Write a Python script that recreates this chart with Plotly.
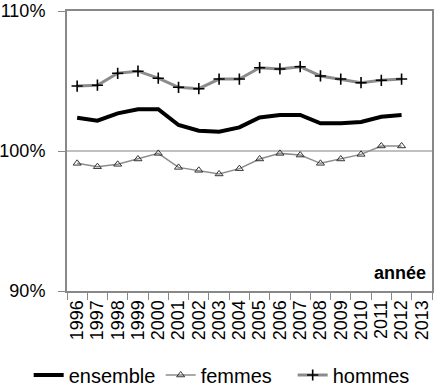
import plotly.graph_objects as go

years = [str(y) for y in range(1996, 2014)]
ensemble = [102.38, 102.17, 102.69, 102.98, 102.98, 101.86, 101.45, 101.38, 101.69,
            102.40, 102.57, 102.57, 101.98, 101.98, 102.07, 102.45, 102.57, None]
femmes = [99.12, 98.88, 99.05, 99.43, 99.83, 98.83, 98.62, 98.36, 98.74,
          99.43, 99.83, 99.71, 99.12, 99.43, 99.76, 100.36, 100.36, None]
hommes = [104.64, 104.70, 105.55, 105.70, 105.20, 104.55, 104.45, 105.14, 105.14,
          105.95, 105.86, 106.02, 105.36, 105.14, 104.88, 105.05, 105.14, None]
ytick_vals = [90, 100, 110]
ytick_text = ["90%", "100%", "110%"]

FONT = "Liberation Sans"
fig = go.Figure()
fig.add_trace(go.Scatter(x=years, y=ensemble, name="ensemble", mode="lines",
                         line=dict(color="black", width=4)))
fig.add_trace(go.Scatter(x=years, y=femmes, name="femmes", mode="lines+markers",
                         line=dict(color="#8c8c8c", width=1.5),
                         marker=dict(symbol="triangle-up-open", size=7, color="#333333",
                                     line=dict(width=1, color="#333333"))))
fig.add_trace(go.Scatter(x=years, y=hommes, name="hommes", mode="lines+markers",
                         line=dict(color="#8c8c8c", width=3),
                         marker=dict(symbol="cross-thin-open", size=8, color="black",
                                     line=dict(width=1.6, color="black"))))

fig.update_layout(
    width=435, height=390,
    margin=dict(l=67, r=3, t=11, b=99, autoexpand=False),
    paper_bgcolor="white", plot_bgcolor="white",
    font=dict(family=FONT, size=18, color="black"),
    showlegend=True,
    legend=dict(orientation="h", x=-0.105, y=-0.3, xanchor="left", yanchor="middle",
                font=dict(size=20), itemwidth=30, tracegroupgap=0,
                entrywidth=87, entrywidthmode="pixels",
                bgcolor="rgba(0,0,0,0)"),
    annotations=[dict(text="<b>année</b>", xref="paper", yref="paper", x=0.99, y=0.02,
                      xanchor="right", yanchor="bottom", showarrow=False,
                      font=dict(size=18))],
)
fig.update_xaxes(type="category", categoryorder="array", categoryarray=years,
                 tickmode="array", tickvals=years, ticktext=years,
                 range=[-0.5, 17.5], tickson="boundaries", ticks="outside", ticklen=7,
                 tickcolor="#888888", tickangle=-90, showline=True, linecolor="#888888",
                 linewidth=2, mirror=True, showgrid=False, tickfont=dict(size=18),
                 automargin=False)
fig.update_yaxes(range=[90, 110], tickvals=ytick_vals, ticktext=ytick_text,
                 ticks="outside", ticklen=7, tickcolor="#888888", showline=True,
                 linecolor="#888888", linewidth=2, mirror=True, showgrid=True,
                 gridcolor="#c0c0c0", gridwidth=1.5, zeroline=False,
                 ticklabelstandoff=9, tickfont=dict(size=18), automargin=False)

fig.write_html("out.html", config={"displayModeBar": False},
               post_script="document.body.style.margin='0';document.body.style.overflow='hidden';")
